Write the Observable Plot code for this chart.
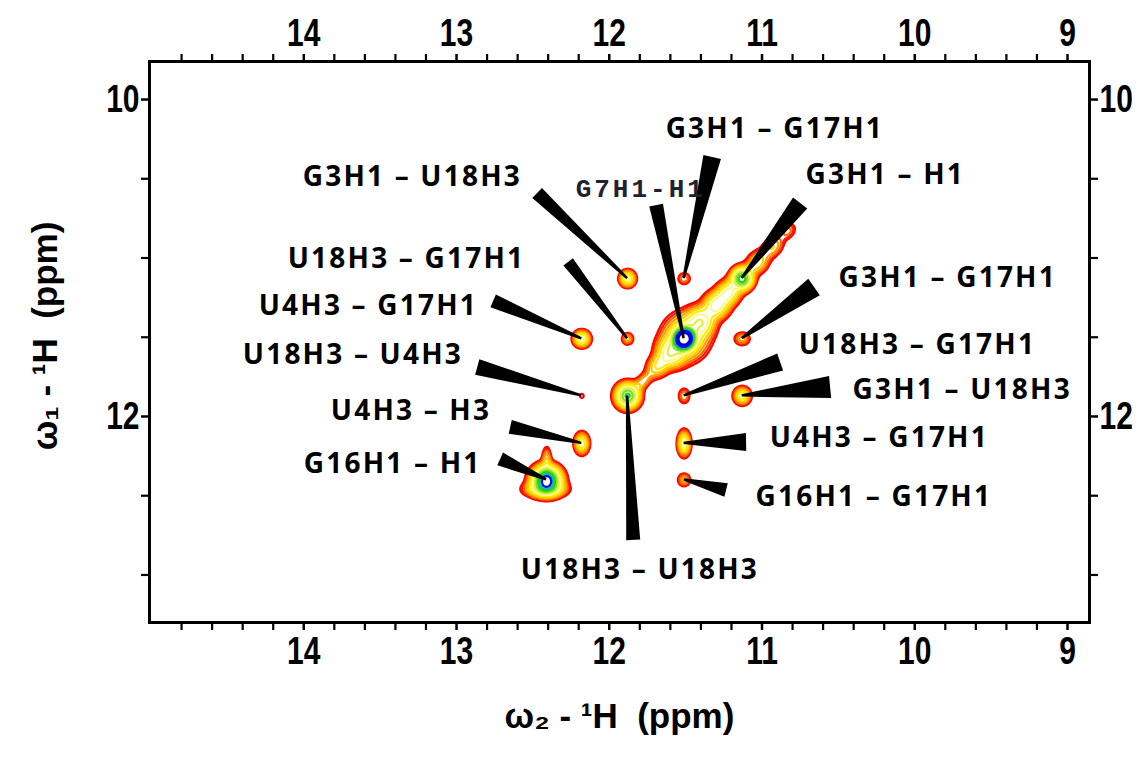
<!DOCTYPE html>
<html><head><meta charset="utf-8">
<script src="https://cdn.jsdelivr.net/npm/d3@7"></script>
<script src="https://cdn.jsdelivr.net/npm/@observablehq/plot@0.6"></script>
<style>
body{margin:0;background:#fff;}
g[font-family="Open Sans"] text{letter-spacing:2.2px;}
g[font-family="Liberation Mono"] text{letter-spacing:3px;}
</style></head><body><div id="chart"></div>
<script>
// ---- Assigned NOESY peaks: ω2 (x) and ω1 (y) shifts in ppm, relative intensity, linewidths (ppm)
const peakNames = ["G3H1 – U18H3","G3H1 – G17H1","G3H1 – H1","G7H1-H1","U18H3 – G17H1","U4H3 – G17H1","G3H1 – G17H1","U18H3 – U4H3","U18H3 – U18H3","U18H3 – G17H1","G3H1 – U18H3","U4H3 – H3","U4H3 – G17H1","G16H1 – H1","G16H1 – G17H1"];
const peakW2 = [11.88, 11.51, 11.13, 11.51, 11.88, 12.18, 11.13, 12.18, 11.88, 11.51, 11.13, 12.18, 11.51, 12.41, 11.51];
const peakW1 = [11.13, 11.13, 11.13, 11.51, 11.51, 11.51, 11.51, 11.87, 11.87, 11.87, 11.87, 12.17, 12.17, 12.40, 12.40];
const peakIntensity = [0.3, 0.1, 0.7, 1.3, 0.12, 0.32, 0.12, 0.05, 0.65, 0.1, 0.26, 0.26, 0.3, 0.95, 0.12];
const peakWidthW2 = [0.03, 0.026, 0.04, 0.04, 0.024, 0.032, 0.032, 0.015, 0.045, 0.024, 0.032, 0.028, 0.024, 0.055, 0.026];
const peakWidthW1 = [0.03, 0.024, 0.04, 0.04, 0.024, 0.03, 0.026, 0.015, 0.045, 0.032, 0.032, 0.04, 0.046, 0.05, 0.026];

// ---- Unresolved diagonal ridge (shift on the diagonal, intensity, width along / across the diagonal)
const ridgeShift = [11.78, 11.68, 11.60, 11.50, 11.40, 11.30, 11.22, 11.03, 10.93, 10.83];
const ridgeIntensity = [0.12, 0.2, 0.3, 0.3, 0.3, 0.32, 0.3, 0.18, 0.14, 0.08];
const ridgeWidthAlong = [0.05, 0.05, 0.05, 0.09, 0.05, 0.05, 0.05, 0.05, 0.05, 0.04];
const ridgeWidthAcross = [0.025, 0.04, 0.055, 0.085, 0.055, 0.05, 0.045, 0.04, 0.035, 0.03];

// ---- Shoulders of the G16H1 diagonal peak
const shoulderW2 = [12.41, 12.42];
const shoulderW1 = [12.27, 12.46];
const shoulderIntensity = [0.12, 0.25];
const shoulderWidthW2 = [0.018, 0.08];
const shoulderWidthW1 = [0.05, 0.03];

// ---- Contour levels and colours
const contourLevels = [0.035, 0.05, 0.07, 0.1, 0.14, 0.2, 0.28, 0.38, 0.5, 0.62, 0.74, 0.86, 1.0, 1.15];
const contourColors = ["#ff0000","#ff1a00","#ff6a00","#ffa000","#ffd000","#ffee00","#fafa90","#e0f040","#80e020","#20d020","#00c880","#0000ff","#0000ee","#0000cc"];

// ---- Axis ticks
const xTickLabels = [14, 13, 12, 11, 10, 9];
const xMinorTicks = [14.8,14.6,14.4,14.2,13.8,13.6,13.4,13.2,12.8,12.6,12.4,12.2,11.8,11.6,11.4,11.2,10.8,10.6,10.4,10.2,9.8,9.6,9.4,9.2];
const yTickLabels = [10, 12];
const yMinorTicks = [10.5, 11, 11.5, 12.5, 13];

// ---- Annotation layout (ppm): wedge base centre, wedge half-width (px), label anchor
const wedgeBaseW2 = [12.469, 11.323, 10.747, 11.690, 12.266, 12.757, 10.656, 12.861, 11.840, 10.878, 10.551, 12.645, 11.101, 12.711, 11.232];
const wedgeBaseW1 = [10.593, 10.366, 10.656, 10.669, 11.028, 11.274, 11.186, 11.691, 12.782, 11.659, 11.817, 12.069, 12.164, 12.271, 12.467];
const wedgeHalf = [7, 9, 9, 7, 6, 7, 10, 8, 7, 9, 11, 7, 9, 7, 7];
const labelW2 = [14.007, 11.631, 10.715, 12.220, 14.105, 14.295, 10.499, 14.399, 12.580, 10.760, 10.407, 13.823, 10.950, 14.0, 11.042];
const labelW1 = [10.492, 10.183, 10.479, 10.562, 11.009, 11.306, 11.129, 11.615, 12.972, 11.552, 11.836, 11.968, 12.139, 12.303, 12.511];

function spectrum(w2, w1) {
  let s = 0;
  for (let i = 0; i < peakW2.length; i++) {
    const a = (w2 - peakW2[i]) / peakWidthW2[i], b = (w1 - peakW1[i]) / peakWidthW1[i];
    const q = a * a + b * b;
    if (q < 50) s += peakIntensity[i] * Math.exp(-q / 2);
  }
  for (let i = 0; i < ridgeShift.length; i++) {
    const dx = w2 - ridgeShift[i], dy = w1 - ridgeShift[i];
    const u = (dx + dy) / Math.SQRT2 / ridgeWidthAlong[i], v = (dx - dy) / Math.SQRT2 / ridgeWidthAcross[i];
    const q = u * u + v * v;
    if (q < 50) s += ridgeIntensity[i] * Math.exp(-q / 2);
  }
  for (let i = 0; i < shoulderW2.length; i++) {
    const a = (w2 - shoulderW2[i]) / shoulderWidthW2[i], b = (w1 - shoulderW1[i]) / shoulderWidthW1[i];
    const q = a * a + b * b;
    if (q < 50) s += shoulderIntensity[i] * Math.exp(-q / 2);
  }
  return s;
}

function wedges(index, scales) {
  const g = d3.create("svg:g").attr("fill", "black");
  for (let i = 0; i < peakNames.length; i++) {
    const tx = scales.x(peakW2[i]), ty = scales.y(peakW1[i]);
    const bx = scales.x(wedgeBaseW2[i]), by = scales.y(wedgeBaseW1[i]);
    const dx = bx - tx, dy = by - ty, L = Math.hypot(dx, dy);
    const ux = -dy / L, uy = dx / L, h = wedgeHalf[i], t = 1.2;
    g.append("path").attr("d",
      `M${tx + ux * t},${ty + uy * t}L${bx + ux * h},${by + uy * h}L${bx - ux * h},${by - uy * h}L${tx - ux * t},${ty - uy * t}Z`);
  }
  return g.node();
}

const labelRows = peakNames.map((name, i) => ({name, w2: labelW2[i], w1: labelW1[i]}));
const axisFont = "'Liberation Sans', Arial, sans-serif";

const chart = Plot.plot({
  width: 1143, height: 759,
  marginLeft: 149, marginRight: 54, marginTop: 61, marginBottom: 137,
  x: {domain: [15.01, 8.856]},
  y: {domain: [13.30, 9.76]},
  color: {type: "threshold", domain: contourLevels.slice(1), range: contourColors},
  style: {fontFamily: axisFont, fontSize: "30px", fontWeight: "bold", background: "white", color: "black"},
  marks: [
    Plot.contour({x1: 12.75, x2: 10.6, y1: 10.6, y2: 12.75, stroke: spectrum, fill: "none",
      thresholds: contourLevels, strokeWidth: 2.2, pixelSize: 1}),
    wedges,
    Plot.text(labelRows.filter(d => d.name !== "G7H1-H1"), {x: "w2", y: "w1", text: "name", textAnchor: "start", lineAnchor: "middle",
      fontFamily: "Open Sans", fontSize: 28, fontWeight: 700, fill: "black"}),
    Plot.text(labelRows.filter(d => d.name === "G7H1-H1"), {x: "w2", y: "w1", text: "name", textAnchor: "start", lineAnchor: "middle",
      fontFamily: "Liberation Mono", fontSize: 26, fontWeight: 700, fill: "#1e2230"}),
    Plot.frame({strokeWidth: 3}),
    Plot.axisX(xTickLabels, {anchor: "top", tickSize: 8, tickPadding: 8, strokeWidth: 2.5, tickFormat: "d", label: null}),
    Plot.axisX(xTickLabels, {anchor: "bottom", tickSize: 8, tickPadding: 6, strokeWidth: 2.5, tickFormat: "d", label: null}),
    Plot.axisX(xMinorTicks, {anchor: "top", tickSize: 8, strokeWidth: 2.2, tickFormat: () => "", label: null}),
    Plot.axisX(xMinorTicks, {anchor: "bottom", tickSize: 8, strokeWidth: 2.2, tickFormat: () => "", label: null}),
    Plot.axisY(yTickLabels, {anchor: "left", tickSize: 8, tickPadding: 2, strokeWidth: 2.5, tickFormat: "d", label: null}),
    Plot.axisY(yTickLabels, {anchor: "right", tickSize: 8, tickPadding: 2, strokeWidth: 2.5, tickFormat: "d", label: null}),
    Plot.axisY(yMinorTicks, {anchor: "left", tickSize: 8, strokeWidth: 2.2, tickFormat: () => "", label: null}),
    Plot.axisY(yMinorTicks, {anchor: "right", tickSize: 8, strokeWidth: 2.2, tickFormat: () => "", label: null}),
    Plot.text(["ω₂ - ¹H  (ppm)"], {frameAnchor: "bottom", dy: 94, textAnchor: "middle", lineAnchor: "middle", fontSize: 35, fontFamily: axisFont, fontWeight: 700}),
    Plot.text(["ω₁ - ¹H  (ppm)"], {frameAnchor: "left", dx: -104, dy: -6, rotate: -90, textAnchor: "middle", lineAnchor: "middle", fontSize: 35, fontFamily: axisFont, fontWeight: 700})
  ]
});
// condensed, tall tick numerals as in the original figure
d3.select(chart).selectAll('g[aria-label="x-axis tick label"] text, g[aria-label="y-axis tick label"] text')
  .attr("transform", function() { return (this.getAttribute("transform") || "") + " scale(1,1.3)"; });
document.getElementById("chart").append(chart);
</script></body></html>
